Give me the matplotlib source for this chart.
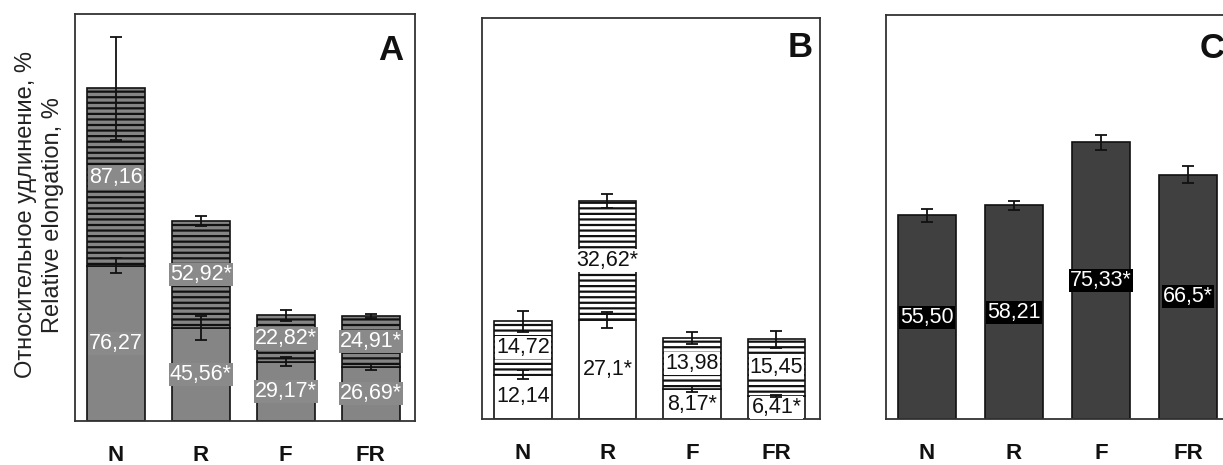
import numpy as np
import matplotlib.pyplot as plt
from matplotlib import font_manager

plt.rcParams['font.family'] = ['Liberation Sans', 'DejaVu Sans']
plt.rcParams['hatch.linewidth'] = 1.6
plt.rcParams['hatch.color'] = 'black'

# Treatments
groups = ['N', 'R', 'F', 'FR']

# Panel A: stacked means (lower + upper part), error bars
a_lower = [76.27, 45.56, 29.17, 26.69]
a_upper = [87.16, 52.92, 22.82, 24.91]
a_lower_err = [3.7, 6.0, 2.2, 1.4]
a_total_err = [25.5, 2.5, 2.7, 1.0]
a_lower_labels = ['76,27', '45,56*', '29,17*', '26,69*']
a_upper_labels = ['87,16', '52,92*', '22,82*', '24,91*']

# Panel B
b_lower = [12.14, 27.1, 8.17, 6.41]
b_upper = [14.72, 32.62, 13.98, 15.45]
b_lower_err = [1.2, 2.2, 0.8, 0.3]
b_total_err = [2.9, 1.9, 1.6, 2.4]
b_lower_labels = ['12,14', '27,1*', '8,17*', '6,41*']
b_upper_labels = ['14,72', '32,62*', '13,98', '15,45']

# Panel C: single bars
c_vals = [55.50, 58.21, 75.33, 66.5]
c_err = [1.8, 1.2, 2.0, 2.3]
c_labels = ['55,50', '58,21', '75,33*', '66,5*']

# condensed face for the value labels if it is there
installed = {f.name for f in font_manager.fontManager.ttflist}
if 'Liberation Sans Narrow' in installed:
    label_font, label_size = 'Liberation Sans Narrow', 17.5
else:
    label_font, label_size = 'Liberation Sans', 15.5

W, H = 1223, 465
fig = plt.figure(figsize=(W / 100, H / 100), dpi=100)


def px_axes(left, right, top, bottom):
    return fig.add_axes([left / W, (H - bottom) / H, (right - left) / W, (bottom - top) / H])


def style_axes(ax, xlim, ymax, letter, lx, ly, ha='right'):
    x = np.arange(len(groups))
    ax.set_xlim(*xlim)
    ax.set_ylim(0, ymax)
    ax.set_yticks([])
    ax.set_xticks(x, groups, fontweight='bold')
    ax.tick_params(axis='x', length=0, pad=17, labelsize=16, labelcolor='#111111')
    for s in ax.spines.values():
        s.set_color('#333333')
        s.set_linewidth(1.3)
    ax.text(lx, ly, letter, transform=ax.transAxes, ha=ha, va='top',
            fontsize=25, fontweight='bold', color='#111111')


def errbars(ax, y, err):
    ax.errorbar(np.arange(len(groups)), y, yerr=err, fmt='none', ecolor='#111111',
                elinewidth=1.3, capsize=4.5, capthick=1.3, zorder=5)


def stacked_panel(ax, lower, upper, lower_err, total_err, lower_labels, upper_labels,
                  face, txt, box, width):
    x = np.arange(len(groups))
    b1 = ax.bar(x, lower, width=width, color=face, edgecolor='#111111', linewidth=1.2, zorder=2)
    b2 = ax.bar(x, upper, bottom=lower, width=width, color=face, edgecolor='#111111',
                linewidth=1.2, hatch='---', zorder=2)
    kw = dict(label_type='center', color=txt, fontsize=label_size, family=label_font,
              bbox=dict(facecolor=box, edgecolor='none', pad=0.8), zorder=4)
    ax.bar_label(b1, labels=lower_labels, **kw)
    ax.bar_label(b2, labels=upper_labels, **kw)
    errbars(ax, lower, lower_err)
    errbars(ax, np.add(lower, upper), total_err)


# A
axA = px_axes(75, 415, 14, 421)
stacked_panel(axA, a_lower, a_upper, a_lower_err, a_total_err, a_lower_labels, a_upper_labels,
              '#858585', 'white', '#8a8a8a', 0.68)
style_axes(axA, (-0.48, 3.52), 200, 'A', 0.965, 0.95)

# B
axB = px_axes(482, 820, 18, 419)
stacked_panel(axB, b_lower, b_upper, b_lower_err, b_total_err, b_lower_labels, b_upper_labels,
              'white', '#111111', 'white', 0.68)
style_axes(axB, (-0.485, 3.515), 110, 'B', 0.979, 0.967)

# C (right edge runs past the figure)
axC = px_axes(886, 1234, 15, 419)
xc = np.arange(len(groups))
bc = axC.bar(xc, c_vals, width=0.66, color='#404040', edgecolor='#111111', linewidth=1.2, zorder=2)
axC.bar_label(bc, labels=c_labels, label_type='center', color='white', fontsize=label_size,
              family=label_font, bbox=dict(facecolor='black', edgecolor='none', pad=0.8), zorder=4)
errbars(axC, c_vals, c_err)
style_axes(axC, (-0.47, 3.53), 110, 'C', 0.902, 0.957, ha='left')

# y-axis caption, Russian and English lines
fig.text(26 / W, 1 - 215 / H, 'Относительное удлинение, %', rotation=90,
         ha='center', va='center', fontsize=17, color='#222222')
fig.text(53 / W, 1 - 215 / H, 'Relative elongation, %', rotation=90,
         ha='center', va='center', fontsize=17, color='#222222')

fig.savefig('out.png', dpi=100)
